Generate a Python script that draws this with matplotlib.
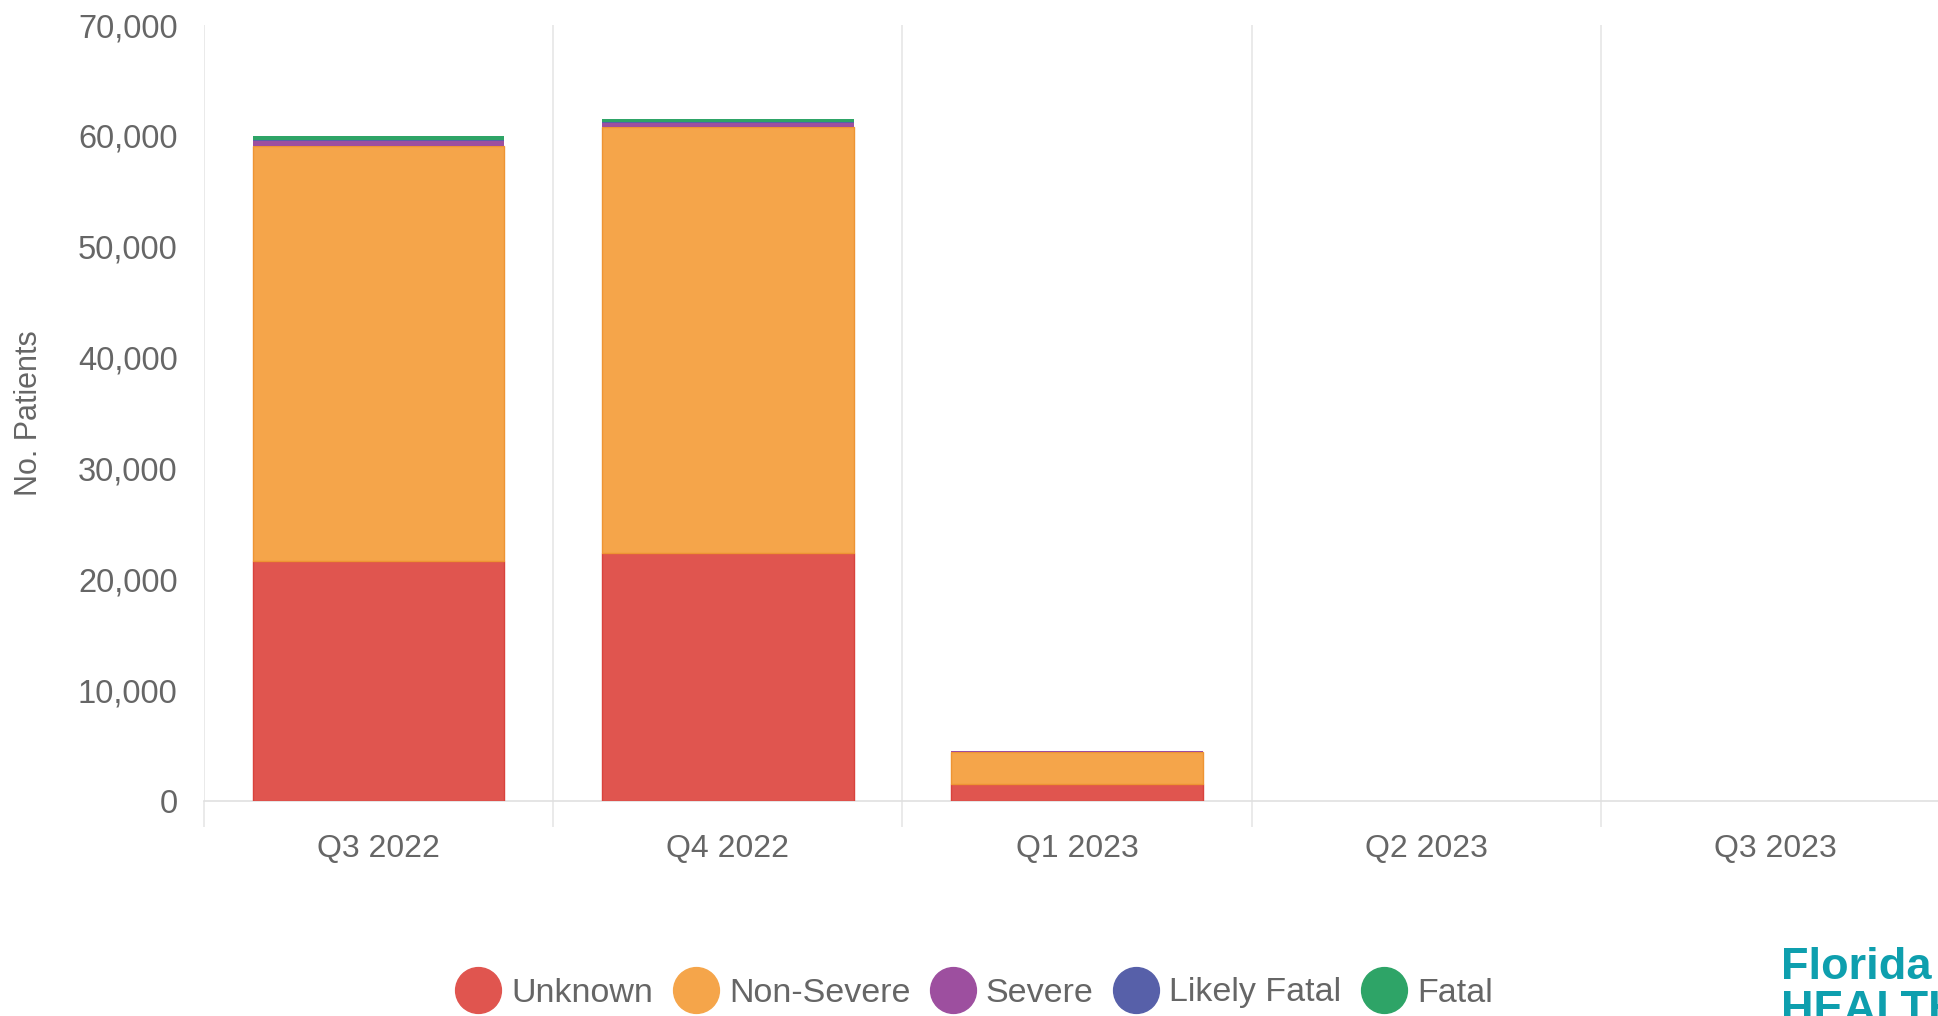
import numpy as np
import matplotlib
matplotlib.use("Agg")
from matplotlib import pyplot as plt
from matplotlib.lines import Line2D
from matplotlib.ticker import FuncFormatter, FixedLocator

plt.rcParams['font.family'] = ['Liberation Sans', 'DejaVu Sans']

quarters = ["Q3 2022", "Q4 2022", "Q1 2023", "Q2 2023", "Q3 2023"]
unknown = [21640, 22400, 1570, 0, 0]
non_severe = [37420, 38380, 2890, 0, 0]
severe = [450, 380, 40, 0, 0]
likely_fatal = [100, 60, 10, 0, 0]
fatal = [350, 280, 20, 0, 0]

series_names = ["Unknown", "Non-Severe", "Severe", "Likely Fatal", "Fatal"]
series_vals = [unknown, non_severe, severe, likely_fatal, fatal]
colors = ["#e0554f", "#f5a54a", "#9d4f9f", "#5760a9", "#2ea467"]
edges = ["#d9423c", "#ee9433", "none", "none", "none"]

fig = plt.figure(figsize=(19.38, 10.16), dpi=100)
ax = fig.add_axes([204/1938, 1 - 801/1016, 1746/1938, 776/1016])

x = np.arange(len(quarters))
bottom = np.zeros(len(quarters))
for name, vals, c, ec in zip(series_names, series_vals, colors, edges):
    vals = np.array(vals, dtype=float)
    keep = vals > 0
    ax.bar(x[keep], vals[keep], bottom=bottom[keep], width=0.72, color=c,
           edgecolor=ec, linewidth=1 if ec != "none" else 0, zorder=3)
    bottom += vals

ax.set_xlim(-0.5, len(quarters) - 0.5)
ax.set_ylim(0, 70000)
ax.set_yticks(np.arange(0, 70001, 10000))
ax.yaxis.set_major_formatter(FuncFormatter(lambda v, p: f"{int(v):,}"))
ax.set_xticks(x)
ax.set_xticklabels(quarters)
ax.xaxis.set_minor_locator(FixedLocator(np.arange(-0.5, len(quarters), 1.0)))
ax.grid(axis='x', which='minor', color='#e6e6e6', linewidth=1.2, zorder=0)

ax.tick_params(axis='x', which='major', length=0, pad=24, labelsize=23,
               labelcolor='#666666')
ax.tick_params(axis='x', which='minor', length=19, width=1.2, color='#e6e6e6',
               direction='out')
ax.tick_params(axis='y', length=0, pad=19, labelsize=23.5, labelcolor='#666666')

for s in ['top', 'right', 'left']:
    ax.spines[s].set_visible(False)
ax.spines['bottom'].set_color('#e0e0e0')
ax.spines['bottom'].set_linewidth(1.2)

ax.set_ylabel("No. Patients", fontsize=22, color='#666666')
ax.yaxis.set_label_coords(-0.0915, 0.5)

handles = [Line2D([], [], marker='o', linestyle='', markersize=33,
                  markerfacecolor=c, markeredgecolor=c) for c in colors]
fig.legend(handles, series_names, loc='center', bbox_to_anchor=(0.503, 1 - 993/1016),
           ncol=5, frameon=False, fontsize=24.5, handletextpad=0.35,
           columnspacing=0.62, labelcolor='#666666', handlelength=1.25)

fig.text(1781/1938, 1 - 979/1016, "Florida", fontsize=32.5, fontweight='bold',
         color='#0e9fae', ha='left', va='baseline')
fig.text(1781/1938, 1 - 1022/1016, "HEALTH", fontsize=32.5, fontweight='bold',
         color='#0e9fae', ha='left', va='baseline')

plt.savefig("out.png", dpi=100)
